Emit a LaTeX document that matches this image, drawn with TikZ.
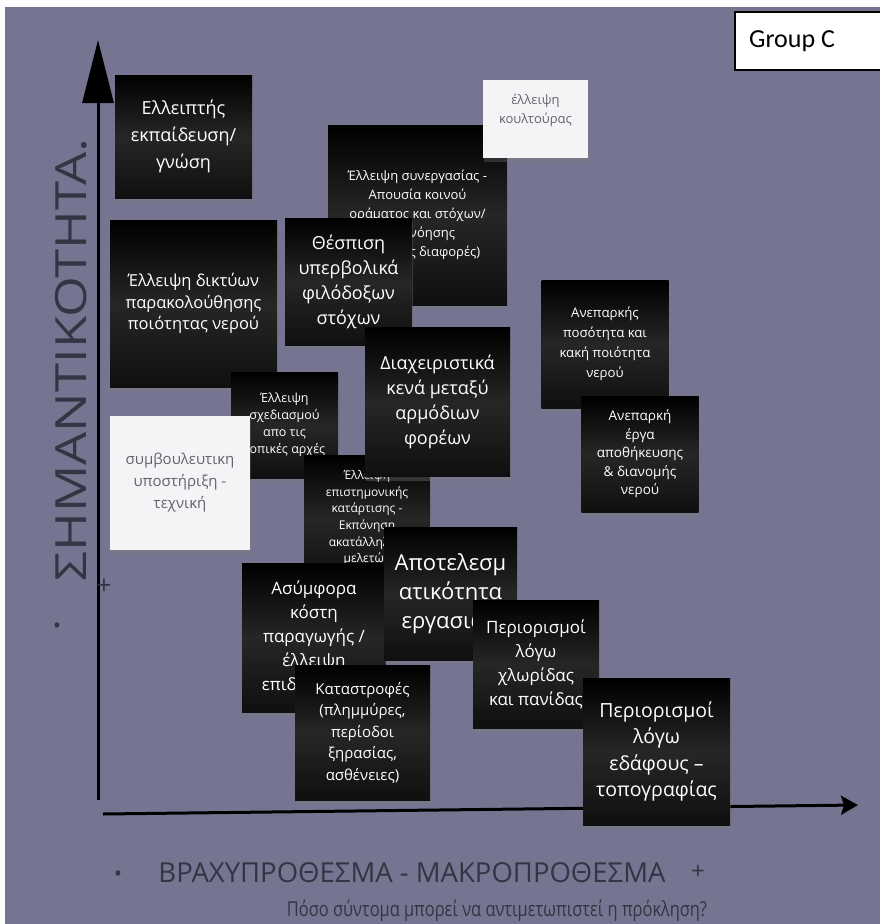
\documentclass[tikz,border=0pt]{standalone}
\usepackage{fontspec}
\setmainfont{Open Sans}
\newfontfamily\condfont[FakeStretch=0.8]{Open Sans}
\newfontfamily\widefont[FakeStretch=1.22]{Open Sans}
\newfontfamily\groupfont{Carlito}
\usepackage{xcolor}
\usepackage{tikz}
\usetikzlibrary{arrows.meta, shadows}
\definecolor{bgpurple}{RGB}{118,117,145}
\definecolor{labelgray}{RGB}{52,52,66}
\definecolor{papergray}{RGB}{100,100,106}
\definecolor{paperwhite}{RGB}{244,244,247}
\begin{document}
\begin{tikzpicture}[x=1pt, y=-1pt,
            note/.style={rectangle, align=center, text=white, inner sep=3pt,
              top color=black, bottom color=black!94, middle color=black!85,
              drop shadow={shadow xshift=1pt, shadow yshift=-4pt, opacity=0.35}},
            paper/.style={rectangle, align=center, text=papergray, inner sep=3pt, fill=paperwhite,
              drop shadow={shadow xshift=1pt, shadow yshift=-4pt, opacity=0.3}},
            axis/.style={line width=3pt, black}]
            \useasboundingbox (0,0) rectangle (880,924);
            \fill[white] (0,0) rectangle (880,924);
            \fill[bgpurple] (5,7) rectangle (880,924);

            \node[draw, line width=1.2pt, fill=white, minimum width=150pt, minimum height=58pt,
              font=\groupfont\fontsize{26}{28}\selectfont] (group) at (810,41) {\hspace*{-36pt}Group C};

            \coordinate (ytip) at (98,40);
            \coordinate (yfoot) at (98,800);
            \coordinate (xfoot) at (103,814);
            \coordinate (xtip) at (858,805);
            \draw[axis, -{Triangle[width=31pt, length=63pt]}] (yfoot) -- (ytip);
            \draw[axis, -{Stealth[width=19pt, length=17pt, inset=3pt]}] (xfoot) -- (xtip);

            \node[rotate=90, text=labelgray, font=\widefont\fontsize{43}{43}\selectfont] (ylabel) at (71,360) {ΣΗΜΑΝΤΙΚΟΤΗΤΑ.};
            \node[text=labelgray, font=\fontsize{26}{26}\selectfont] (yplus) at (104,587) {+};
            \node[text=labelgray, font=\fontsize{22}{22}\selectfont] (ydot) at (57,628) {•};
            \node[text=labelgray, font=\fontsize{27.5}{28}\selectfont] (xlabel) at (412,873) {ΒΡΑΧΥΠΡΟΘΕΣΜΑ - ΜΑΚΡΟΠΡΟΘΕΣΜΑ};
            \node[text=labelgray, font=\fontsize{22}{22}\selectfont] (xdot) at (118,876) {•};
            \node[text=labelgray, font=\fontsize{24}{24}\selectfont] (xplus) at (698,872) {+};
            \node[text=labelgray, font=\condfont\fontsize{20.5}{21}\selectfont] (question) at (497,911) {Πόσο σύντομα μπορεί να αντιμετωπιστεί η πρόκληση?};

            \node[note, minimum width=137pt, minimum height=123pt, font=\fontsize{18}{27}\selectfont] (educ) at (183.5,136.5) {Ελλειπτής\\εκπαίδευση/\\γνώση};
            \node[note, minimum width=179pt, minimum height=180pt, font=\fontsize{13}{19}\selectfont] (coop) at (417.5,215) {Έλλειψη συνεργασίας -\\Απουσία κοινού\\οράματος και στόχων/\\Κατανόησης\\(πολιτικές διαφορές)};
            \node[paper, minimum width=105pt, minimum height=78pt, text depth=20pt, font=\fontsize{13}{19}\selectfont] (culture) at (535.5,119) {έλλειψη\\κουλτούρας};
            \node[note, minimum width=127pt, minimum height=127pt, font=\fontsize{18}{25}\selectfont] (goals) at (348.5,281.5) {Θέσπιση\\υπερβολικά\\φιλόδοξων\\στόχων};
            \node[note, minimum width=167pt, minimum height=167pt, font=\fontsize{16.5}{21.5}\selectfont] (monitor) at (193.5,303.5) {Έλλειψη δικτύων\\παρακολούθησης\\ποιότητας νερού};
            \node[note, minimum width=127pt, minimum height=128pt, font=\fontsize{13.2}{20}\selectfont] (waterqual) at (605,344) {Ανεπαρκής\\ποσότητα και\\κακή ποιότητα\\νερού};
            \node[note, minimum width=117pt, minimum height=116pt, font=\fontsize{13.5}{18.5}\selectfont] (storage) at (640,454) {Ανεπαρκή\\έργα\\αποθήκευσης\\\& διανομής\\νερού};
            \node[note, minimum width=107pt, minimum height=106pt, font=\fontsize{12.5}{17}\selectfont] (planning) at (284.5,425) {Έλλειψη\\σχεδιασμού\\απο τις\\τοπικές αρχές};
            \node[paper, minimum width=140pt, minimum height=134pt, font=\fontsize{15}{22}\selectfont] (advice) at (180,483) {συμβουλευτικη\\υποστήριξη -\\τεχνική};
            \node[note, minimum width=126pt, minimum height=126pt, font=\fontsize{12}{16.7}\selectfont] (science) at (367,518) {Έλλειψη\\επιστημονικής\\κατάρτισης -\\Εκπόνηση\\ακατάλληλων\\μελετών};
            \node[note, minimum width=145pt, minimum height=149pt, font=\fontsize{18}{25}\selectfont] (mgmt) at (437.5,402) {Διαχειριστικά\\κενά μεταξύ\\αρμόδιων\\φορέων};
            \node[note, minimum width=144pt, minimum height=149pt, font=\fontsize{17}{24}\selectfont] (cost) at (314,637.5) {Ασύμφορα\\κόστη\\παραγωγής /\\έλλειψη\\επιδοτήσεων};
            \node[note, minimum width=133pt, minimum height=133pt, font=\fontsize{22}{29}\selectfont] (efficiency) at (450.5,593.5) {Αποτελεσμ\\ατικότητα\\εργασιών};
            \node[note, minimum width=126pt, minimum height=128pt, font=\fontsize{17}{24}\selectfont] (flora) at (536,664) {Περιορισμοί\\λόγω\\χλωρίδας\\και πανίδας};
            \node[note, minimum width=135pt, minimum height=135pt, font=\fontsize{15}{21.5}\selectfont] (disaster) at (362.5,732.5) {Καταστροφές\\(πλημμύρες,\\περίοδοι\\ξηρασίας,\\ασθένειες)};
            \node[note, minimum width=147pt, minimum height=147pt, font=\fontsize{19.5}{26.5}\selectfont] (terrain) at (656.5,751.5) {Περιορισμοί\\λόγω\\εδάφους –\\τοπογραφίας};
        \end{tikzpicture}
\end{document}
